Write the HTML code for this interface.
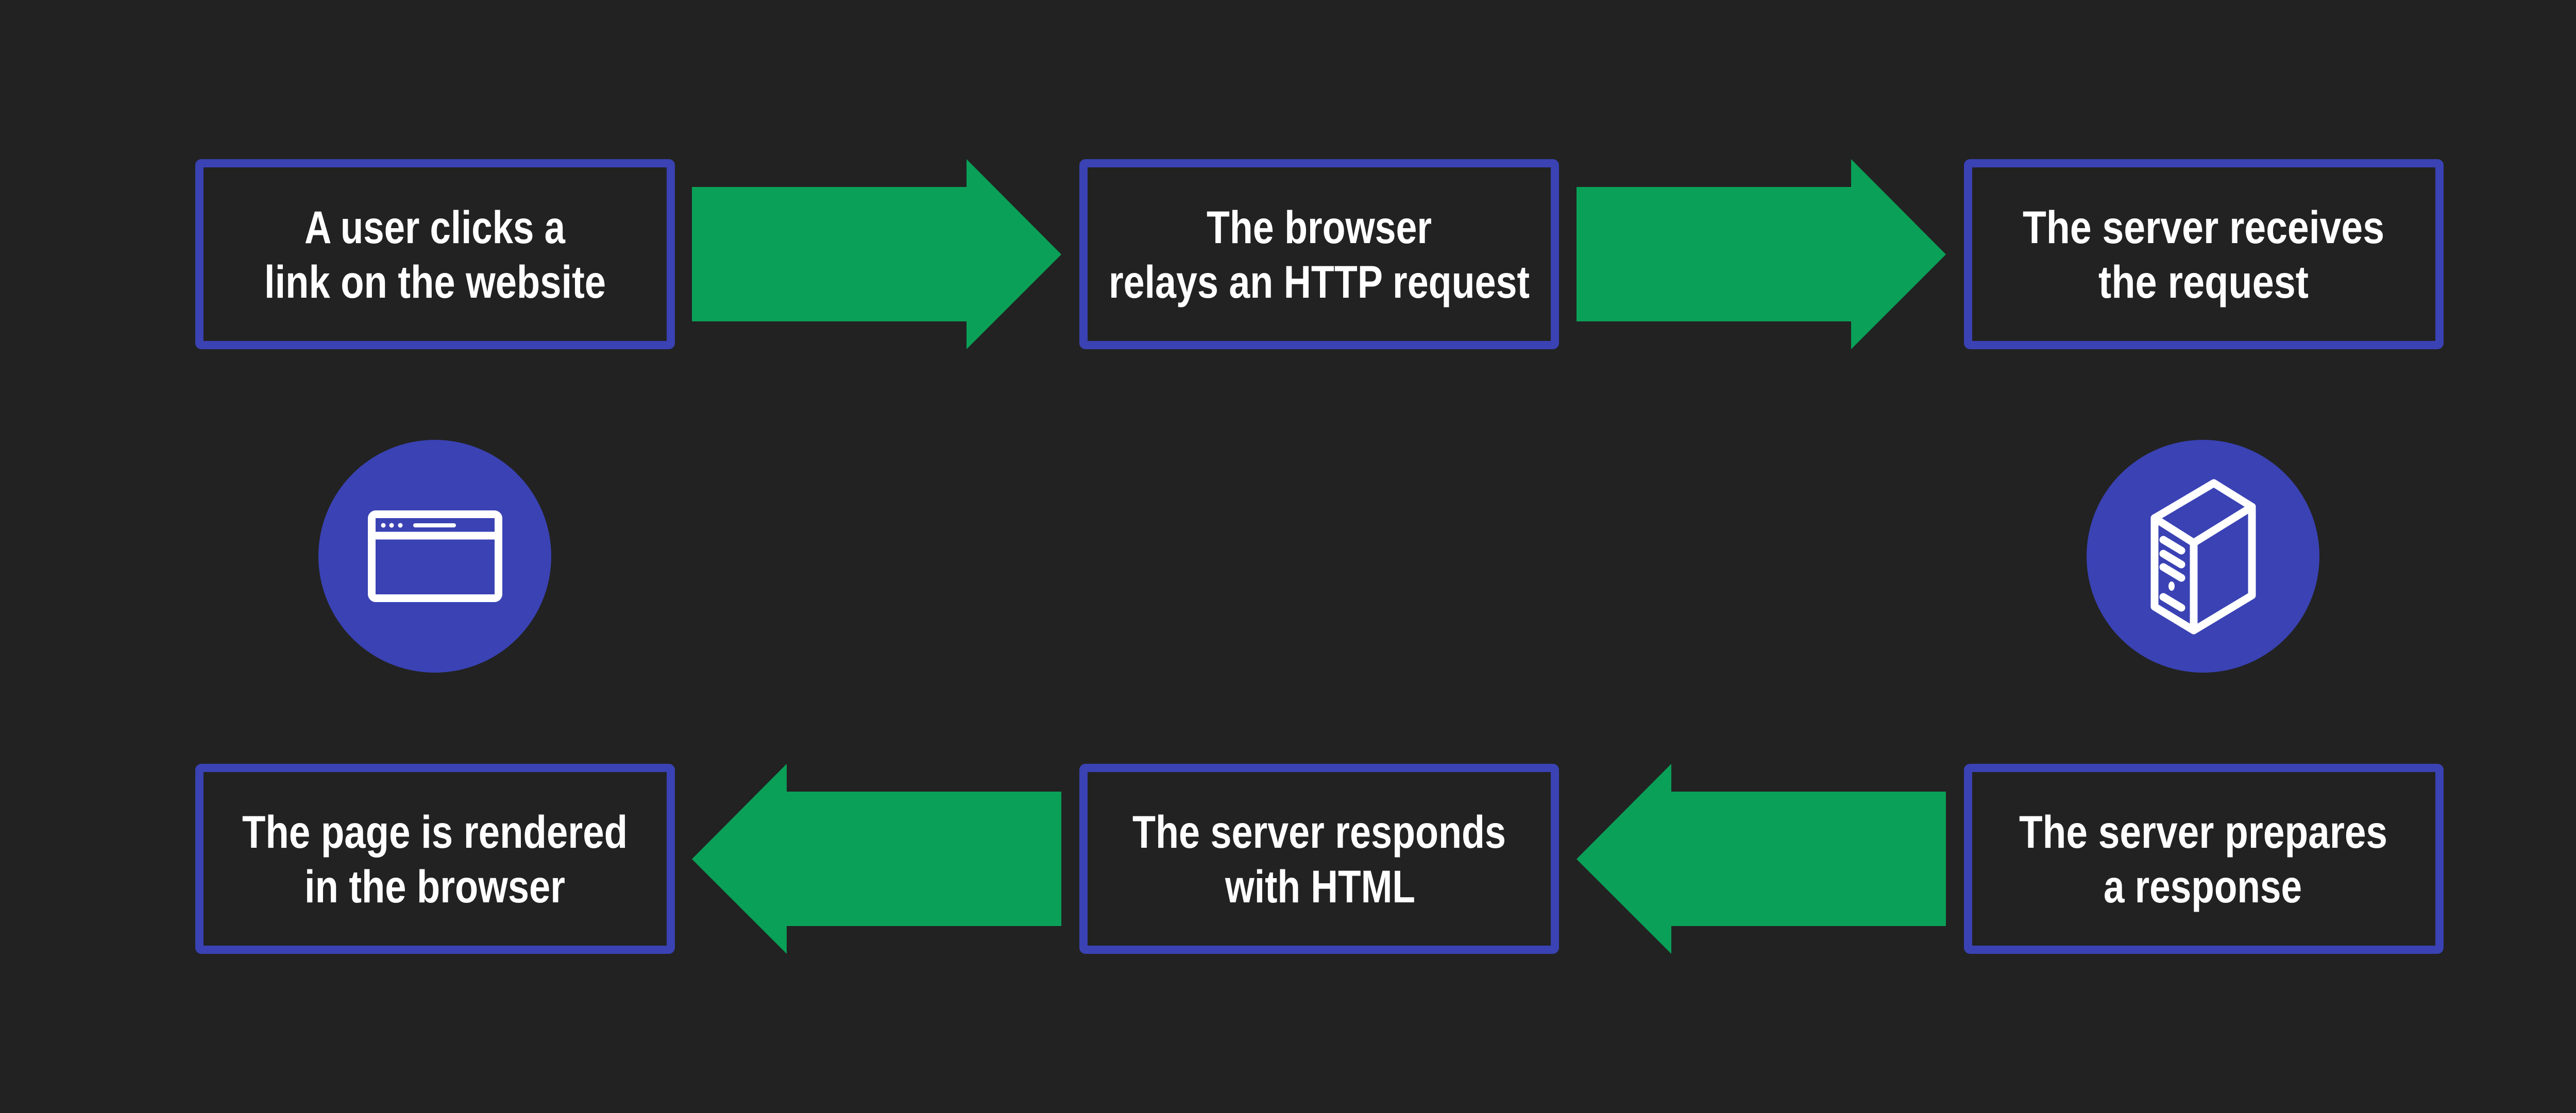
<!DOCTYPE html>
<html><head><meta charset="utf-8"><style>html,body{margin:0;padding:0;background:#222222;}svg{display:block}</style></head>
<body>
<svg width="5121" height="2161" viewBox="0 0 5121 2161" xmlns="http://www.w3.org/2000/svg">
<rect width="5121" height="2161" fill="#222222"/>
<g fill="none" stroke="#3a42b4" stroke-width="16">
<rect x="387" y="317" width="915" height="353" rx="4"/>
<rect x="2103" y="317" width="915" height="353" rx="4"/>
<rect x="3820" y="317" width="915" height="353" rx="4"/>
<rect x="387" y="1491" width="915" height="353" rx="4"/>
<rect x="2103" y="1491" width="915" height="353" rx="4"/>
<rect x="3820" y="1491" width="915" height="353" rx="4"/>
</g>
<g fill="#0aa058">
<polygon points="1343,363 1876,363 1876,309 2060,494 1876,678 1876,624 1343,624"/>
<polygon points="3060,363 3593,363 3593,309 3777,494 3593,678 3593,624 3060,624"/>
<polygon points="2060,1537 1527,1537 1527,1483 1343,1668 1527,1852 1527,1798 2060,1798"/>
<polygon points="3777,1537 3244,1537 3244,1483 3060,1668 3244,1852 3244,1798 3777,1798"/>
</g>
<g fill="#ffffff" font-family="'Liberation Sans', sans-serif" font-weight="bold" font-size="89" lengthAdjust="spacingAndGlyphs">
<text x="591" y="472" textLength="506" lengthAdjust="spacingAndGlyphs">A user clicks a</text>
<text x="513" y="578" textLength="663" lengthAdjust="spacingAndGlyphs">link on the website</text>
<text x="2342" y="472" textLength="437" lengthAdjust="spacingAndGlyphs">The browser</text>
<text x="2152" y="578" textLength="817" lengthAdjust="spacingAndGlyphs">relays an HTTP request</text>
<text x="3926" y="472" textLength="702" lengthAdjust="spacingAndGlyphs">The server receives</text>
<text x="4073" y="578" textLength="408" lengthAdjust="spacingAndGlyphs">the request</text>
<text x="470" y="1646" textLength="748" lengthAdjust="spacingAndGlyphs">The page is rendered</text>
<text x="591" y="1752" textLength="506" lengthAdjust="spacingAndGlyphs">in the browser</text>
<text x="2198" y="1646" textLength="725" lengthAdjust="spacingAndGlyphs">The server responds</text>
<text x="2378" y="1752" textLength="369" lengthAdjust="spacingAndGlyphs">with HTML</text>
<text x="3919" y="1646" textLength="715" lengthAdjust="spacingAndGlyphs">The server prepares</text>
<text x="4083" y="1752" textLength="385" lengthAdjust="spacingAndGlyphs">a response</text>
</g>
<circle cx="844" cy="1080" r="226" fill="#3a42b4"/>
<circle cx="4276" cy="1080" r="226" fill="#3a42b4"/>
<g fill="none" stroke="#ffffff" stroke-width="15">
<rect x="721.5" y="998.5" width="246" height="163" rx="8"/>
<line x1="721" y1="1040" x2="968" y2="1040"/>
</g>
<g fill="#ffffff">
<circle cx="744" cy="1020" r="4.5"/>
<circle cx="760" cy="1020" r="4.5"/>
<circle cx="777" cy="1020" r="4.5"/>
<rect x="802" y="1016" width="83" height="8" rx="4"/>
</g>
<g fill="none" stroke="#ffffff" stroke-width="15" stroke-linejoin="round" stroke-linecap="round">
<path d="M4297,938 L4371,984 L4371,1156 L4258,1224 L4182,1178 L4182,1006 Z"/>
<path d="M4182,1006 L4258,1054 L4371,984 M4258,1054 L4258,1224"/>
<path d="M4199,1048 L4234,1069 M4199,1075 L4234,1096 M4199,1101 L4234,1122 M4199,1159 L4234,1180"/>
</g>
<ellipse cx="4215" cy="1138" rx="6" ry="9" fill="#ffffff"/>
</svg>
</body></html>
